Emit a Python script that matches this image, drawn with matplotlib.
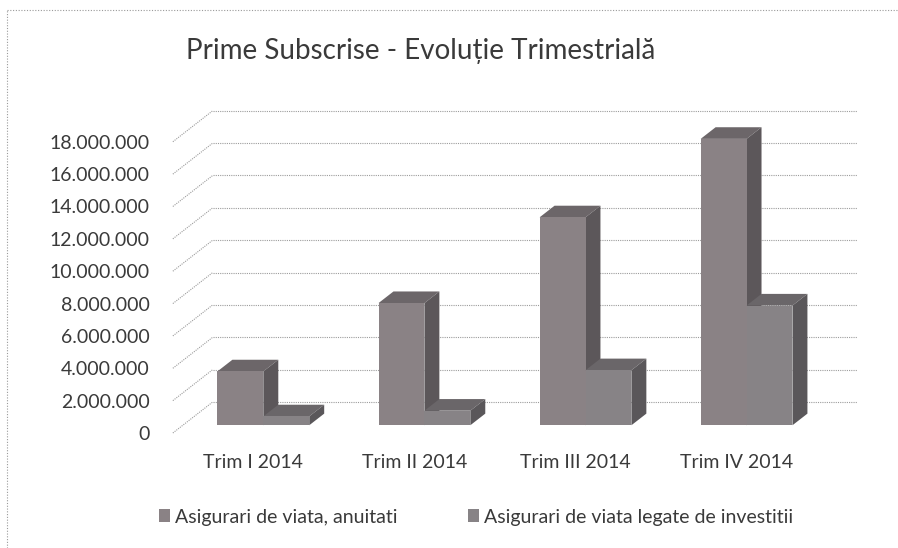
import matplotlib
matplotlib.use("Agg")
import matplotlib.pyplot as plt
from matplotlib.patches import Patch
from matplotlib.lines import Line2D

# ---- data ----
categories = ["Trim I 2014", "Trim II 2014", "Trim III 2014", "Trim IV 2014"]
series_names = ["Asigurari de viata, anuitati", "Asigurari de viata legate de investitii"]
anuitati = [3_330_000, 7_550_000, 12_850_000, 17_700_000]
investitii = [550_000, 900_000, 3_400_000, 7_400_000]
yticks = [0, 2_000_000, 4_000_000, 6_000_000, 8_000_000, 10_000_000,
          12_000_000, 14_000_000, 16_000_000, 18_000_000]
title = "Prime Subscrise - Evoluție Trimestrială"

# ---- style / geometry ----
W, H = 898, 548
FONT = ["Lato", "DejaVu Sans"]
TXT = "#3a3a3a"
GRID = "#9c9c9c"
front_cols = ["#8a8285", "#878386"]
top_cols = ["#6c6669", "#6a6669"]
side_cols = ["#5c575a", "#5a575a"]

PX_PER_UNIT_X = 161.7
PX_PER_M = 16.18
DX = 40 / PX_PER_UNIT_X          # depth offset in x data units
DY = 31 / PX_PER_M * 1e6         # depth offset in y data units
D0, D1 = 0.25, 0.625             # bar depth range (fraction of full depth)
BAR_W = 0.285

x_left = 172.85
x_right = 857
y_zero = 433
YMAX = 20.6e6

fig = plt.figure(figsize=(W / 100, H / 100), dpi=100)
ax = fig.add_axes([x_left / W, (H - y_zero) / H,
                   (x_right - x_left) / W, YMAX / 1e6 * PX_PER_M / H])
ax.set_xlim(-0.5, 3.5 + DX)
ax.set_ylim(0, YMAX)
for s in ax.spines.values():
    s.set_visible(False)

# back wall gridlines and left-wall diagonals
for v in yticks:
    ax.plot([-0.5 + DX, 3.5 + DX], [v + DY, v + DY], color=GRID, lw=0.8,
            ls=(0, (1, 1)), zorder=1, clip_on=False)
    ax.plot([-0.5, -0.5 + DX], [v, v + DY], color=GRID, lw=0.8,
            ls=(0, (1, 1)), zorder=1, clip_on=False)


def draw_bar(x0, h, k, z):
    fx = x0 + D0 * DX
    fy = D0 * DY
    # front face via bar
    ax.bar(fx, h, width=BAR_W, bottom=fy, align="edge", color=front_cols[k],
           edgecolor="none", zorder=z + 0.2)
    # top face
    ax.fill([fx, fx + BAR_W, x0 + BAR_W + D1 * DX, x0 + D1 * DX],
            [h + fy, h + fy, h + D1 * DY, h + D1 * DY],
            color=top_cols[k], lw=0, zorder=z)
    # right side face
    ax.fill([fx + BAR_W, x0 + BAR_W + D1 * DX, x0 + BAR_W + D1 * DX, fx + BAR_W],
            [fy, D1 * DY, h + D1 * DY, h + fy],
            color=side_cols[k], lw=0, zorder=z)


z = 2
for i in range(len(categories)):
    for k, vals in enumerate([anuitati, investitii]):
        x0 = i - BAR_W + k * BAR_W
        draw_bar(x0, vals[i], k, z)
        z += 1

# ticks
ax.set_yticks(yticks)
ax.set_yticklabels([f"{v:,}".replace(",", ".") for v in yticks])
ax.set_xticks(range(len(categories)))
ax.set_xticklabels(categories)
ax.tick_params(axis="y", length=0, pad=16.5, labelsize=14, labelcolor=TXT)
ax.tick_params(axis="x", length=0, pad=15, labelsize=14, labelcolor=TXT)
for lab in ax.get_xticklabels() + ax.get_yticklabels():
    lab.set_family(FONT)

# title
fig.text(421 / W, 1 - 51 / H, title, ha="center", va="center",
         fontsize=20, color=TXT, family=FONT)

# legend
handles = [Patch(facecolor=front_cols[0], edgecolor="none"),
           Patch(facecolor=front_cols[1], edgecolor="none")]
leg = fig.legend(handles, series_names, loc="center",
                 bbox_to_anchor=(476 / W, 1 - 517 / H), ncol=2, frameon=False,
                 handlelength=0.6, handleheight=0.6, handletextpad=0.25,
                 columnspacing=3.6, prop={"family": FONT, "size": 14})
for t in leg.get_texts():
    t.set_color(TXT)

# dotted chart border (top and left visible in the scan)
fig.add_artist(Line2D([7 / W, 1], [1 - 10 / H, 1 - 10 / H], transform=fig.transFigure,
                      color="#9a9a9a", lw=0.8, ls=(0, (1, 1.5))))
fig.add_artist(Line2D([7 / W, 7 / W], [0, 1 - 10 / H], transform=fig.transFigure,
                      color="#9a9a9a", lw=0.8, ls=(0, (1, 1.5))))

fig.savefig("out.png", dpi=100)
